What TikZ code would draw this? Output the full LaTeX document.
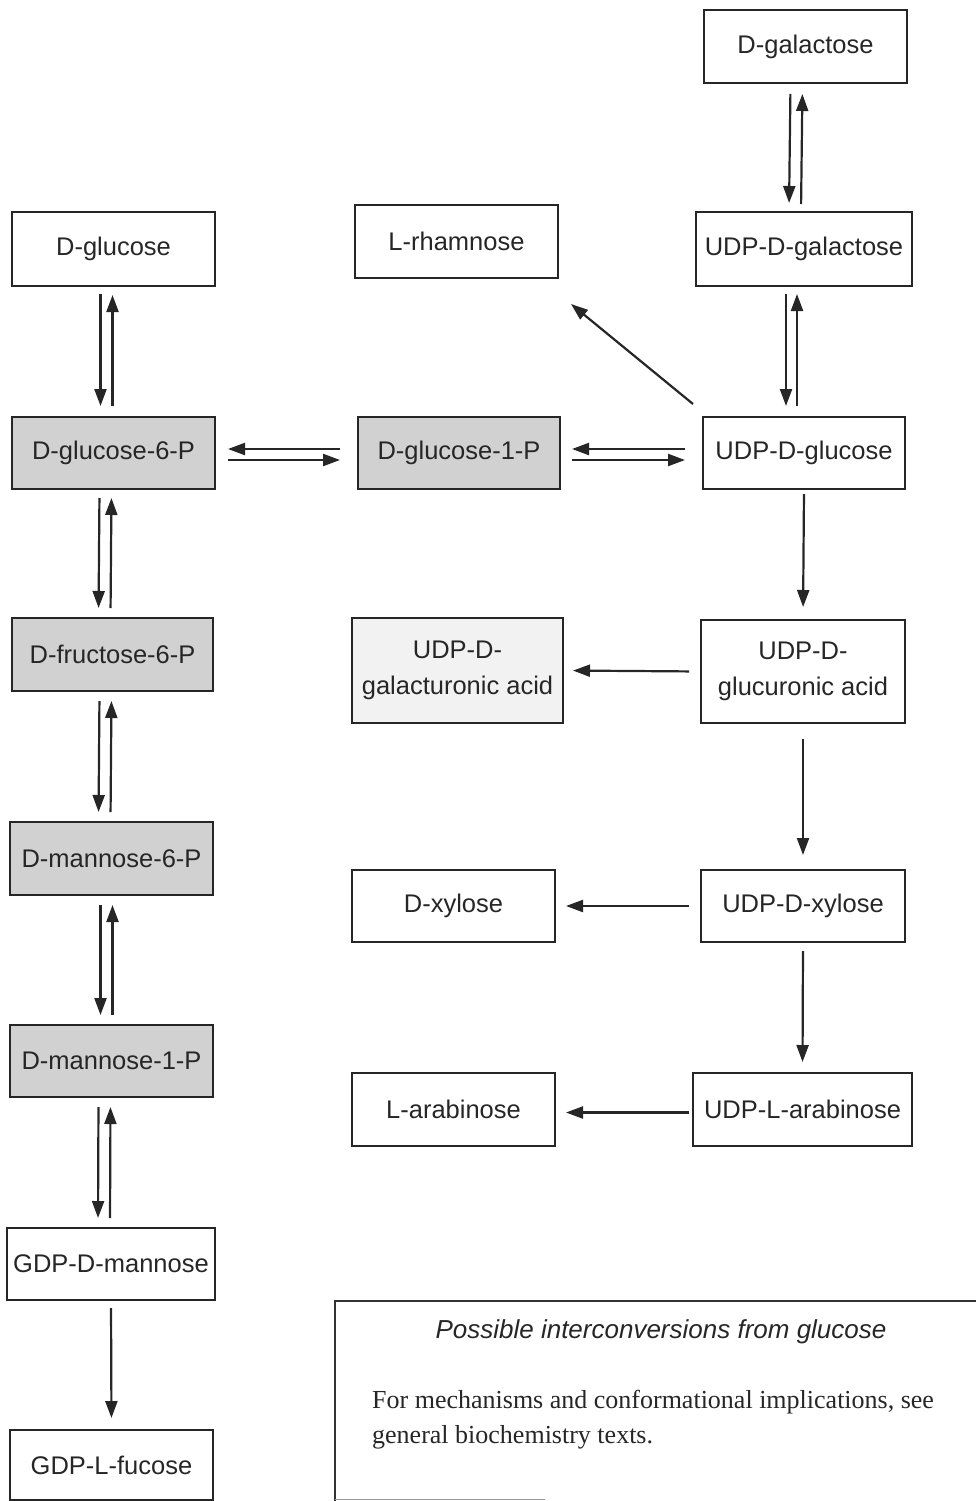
\documentclass[tikz,border=0pt]{standalone}
\usepackage{fontspec}
\setmainfont{Liberation Serif}
\newfontfamily\boxfont{Liberation Sans}
\usetikzlibrary{arrows.meta,positioning}
\tikzset{
  box/.style={draw=black!85, line width=2pt, inner sep=0pt, align=center,
    font=\boxfont\fontsize{25.5}{36}\selectfont, text=black!85},
  shaded/.style={box, fill=black!18},
  light/.style={box, fill=black!5},
  conv/.style={line width=2.2pt, draw=black!85,
    -{Triangle[length=17pt,width=12pt]}},
}
\begin{document}
\begin{tikzpicture}[x=1pt,y=-1pt]
\useasboundingbox (0,0) rectangle (976,1501);
% left column
\node[box, minimum width=203pt, minimum height=74pt] (glc) at (113.5,249) {D-glucose};
\node[shaded, minimum width=203pt, minimum height=72pt] (g6p) at (113.5,453) {D-glucose-6-P};
\node[shaded, minimum width=201pt, minimum height=73pt] (f6p) at (112.5,654.5) {D-fructose-6-P};
\node[shaded, minimum width=203pt, minimum height=73pt] (m6p) at (111.5,858.5) {D-mannose-6-P};
\node[shaded, minimum width=203pt, minimum height=72pt] (m1p) at (111.5,1061) {D-mannose-1-P};
\node[box, minimum width=208pt, minimum height=72pt] (gdpman) at (111,1264) {GDP-D-mannose};
\node[box, minimum width=203pt, minimum height=70pt] (gdpfuc) at (111.5,1465) {GDP-L-fucose};
% middle column
\node[box, minimum width=203pt, minimum height=73pt] (rha) at (456.5,241.5) {L-rhamnose};
\node[shaded, minimum width=202pt, minimum height=72pt] (g1p) at (459,453) {D-glucose-1-P};
\node[light, minimum width=211pt, minimum height=105pt] (udpgala) at (457.5,670.5) {UDP-D-\\galacturonic acid};
\node[box, minimum width=203pt, minimum height=72pt] (xyl) at (453.5,906) {D-xylose};
\node[box, minimum width=203pt, minimum height=73pt] (ara) at (453.5,1109.5) {L-arabinose};
% right column
\node[box, minimum width=203pt, minimum height=73pt] (gal) at (805.5,46.5) {D-galactose};
\node[box, minimum width=216pt, minimum height=74pt] (udpgal) at (804,249) {UDP-D-galactose};
\node[box, minimum width=202pt, minimum height=72pt] (udpglc) at (804,453) {UDP-D-glucose};
\node[box, minimum width=204pt, minimum height=103pt] (udpglca) at (803,671.5) {UDP-D-\\glucuronic acid};
\node[box, minimum width=204pt, minimum height=72pt] (udpxyl) at (803,906) {UDP-D-xylose};
\node[box, minimum width=219pt, minimum height=73pt] (udpara) at (802.5,1109.5) {UDP-L-arabinose};

% left column double arrows
\draw[conv, shorten <=7pt, shorten >=10pt] ([xshift=-13pt]glc.south) -- ([xshift=-13pt]g6p.north);
\draw[conv, shorten <=10pt, shorten >=8pt] ([xshift=-1pt]g6p.north) -- ([xshift=-1pt]glc.south);
\draw[conv, shorten <=8pt, shorten >=9pt] ([xshift=-14pt]g6p.south) -- ([xshift=-14pt]f6p.north);
\draw[conv, shorten <=9pt, shorten >=8pt] ([xshift=-2pt]f6p.north) -- ([xshift=-2pt]g6p.south);
\draw[conv, shorten <=9pt, shorten >=9pt] ([xshift=-13pt]f6p.south) -- ([xshift=-13pt]m6p.north);
\draw[conv, shorten <=9pt, shorten >=9pt] ([xshift=-1pt]m6p.north) -- ([xshift=-1pt]f6p.south);
\draw[conv, shorten <=9pt, shorten >=9pt] ([xshift=-11pt]m6p.south) -- ([xshift=-11pt]m1p.north);
\draw[conv, shorten <=9pt, shorten >=9pt] ([xshift=1pt]m1p.north) -- ([xshift=1pt]m6p.south);
\draw[conv, shorten <=9pt, shorten >=9pt] ([xshift=-13pt]m1p.south) -- ([xshift=-13pt]gdpman.north);
\draw[conv, shorten <=9pt, shorten >=9pt] ([xshift=-1pt]gdpman.north) -- ([xshift=-1pt]m1p.south);
\draw[conv, shorten <=7pt, shorten >=11pt] (gdpman.south) -- (gdpfuc.north);

% horizontal double arrows
\draw[conv, shorten <=17pt, shorten >=12pt] ([yshift=4pt]g1p.west) -- ([yshift=4pt]g6p.east);
\draw[conv, shorten <=12pt, shorten >=17pt] ([yshift=-7pt]g6p.east) -- ([yshift=-7pt]g1p.west);
\draw[conv, shorten <=17pt, shorten >=11pt] ([yshift=4pt]udpglc.west) -- ([yshift=4pt]g1p.east);
\draw[conv, shorten <=11pt, shorten >=17pt] ([yshift=-7pt]g1p.east) -- ([yshift=-7pt]udpglc.west);

% right column
\draw[conv, shorten <=10pt, shorten >=8pt] ([xshift=-15pt]gal.south) -- ([xshift=-15pt]udpgal.north);
\draw[conv, shorten <=7pt, shorten >=10pt] ([xshift=-3pt]udpgal.north) -- ([xshift=-3pt]gal.south);
\draw[conv, shorten <=7pt, shorten >=10pt] ([xshift=-18pt]udpgal.south) -- ([xshift=-18pt]udpglc.north);
\draw[conv, shorten <=10pt, shorten >=7pt] ([xshift=-7pt]udpglc.north) -- ([xshift=-7pt]udpgal.south);
\draw[conv] ([xshift=-9pt,yshift=12pt]udpglc.north west) -- ([xshift=12pt,yshift=-25pt]rha.south east);
\draw[conv, shorten <=4pt, shorten >=12pt] (udpglc.south) -- (udpglca.north);
\draw[conv, shorten <=11pt, shorten >=9pt] (udpglca.west) -- (udpgala.east);
\draw[conv, shorten <=15pt, shorten >=14pt] (udpglca.south) -- (udpxyl.north);
\draw[conv, shorten <=11pt, shorten >=10pt] (udpxyl.west) -- (xyl.east);
\draw[conv, shorten <=8pt, shorten >=10pt] (udpxyl.south) -- (udpara.north);
\draw[conv, shorten <=3pt, shorten >=10pt] ([yshift=-3pt]udpara.west) -- ([yshift=-3pt]ara.east);

% caption
\draw[line width=1.5pt, draw=black!80] (976,1301) -- (335,1301) -- (335,1501);
\draw[line width=1.2pt, draw=black!40] (335,1499.5) -- (545,1499.5);
\node[font=\boxfont\itshape\fontsize{26}{30}\selectfont, text=black!85] (captitle) at (661,1332) {Possible interconversions from glucose};
\node[anchor=west, align=left, inner sep=0pt, font=\fontsize{26}{35}\selectfont, text=black!85] (captext) at (372,1420) {For mechanisms and conformational implications, see\\general biochemistry texts.};
\end{tikzpicture}
\end{document}
